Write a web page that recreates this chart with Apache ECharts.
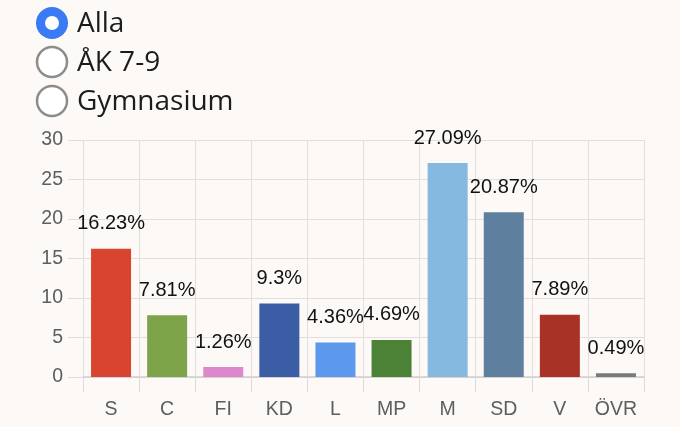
<!DOCTYPE html>
<html>
<head>
<meta charset="utf-8">
<script src="https://cdn.jsdelivr.net/npm/echarts@6/dist/echarts.min.js"></script>
<style>
html,body{margin:0;padding:0;background:#fcf9f6;}
#c{width:680px;height:427px;}
</style>
</head>
<body>
<div id="c"></div>
<script>
const categories = ['S','C','FI','KD','L','MP','M','SD','V','ÖVR'];
const values = [16.23, 7.81, 1.26, 9.3, 4.36, 4.69, 27.09, 20.87, 7.89, 0.49];
const barColors = ['#d84430','#7ea44a','#dc88cc','#3a5da6','#5c98ec','#4b8235','#85b9e0','#5f7f9f','#a73225','#7a7a7a'];
const yTicks = [0, 5, 10, 15, 20, 25, 30];
const radioOptions = ['Alla','ÅK 7-9','Gymnasium'];
const selectedIndex = 0;

const chart = echarts.init(document.getElementById('c'));

const graphics = [];
radioOptions.forEach((t, i) => {
  const cy = 23 + i * 39;
  if (i === selectedIndex) {
    graphics.push({type:'circle', shape:{cx:52, cy:cy, r:16}, style:{fill:'#3a7af5'}});
    graphics.push({type:'circle', shape:{cx:52, cy:cy, r:7}, style:{fill:'#ffffff'}});
  } else {
    graphics.push({type:'circle', shape:{cx:52, cy:cy, r:15}, style:{fill:'#ffffff', stroke:'#8c8c8c', lineWidth:2.5}});
  }
  graphics.push({type:'text', x:77, y:cy + 1, style:{text:t, fill:'#1c1c1c', font:'28px "Open Sans", "Noto Sans", sans-serif', textVerticalAlign:'middle'}});
});

chart.setOption({
  backgroundColor:'#fcf9f6',
  animation:false,
  graphic: graphics,
  grid:{left:83, right:36, top:140, bottom:50},
  xAxis:{
    type:'category',
    data:categories,
    axisLine:{show:true, lineStyle:{color:'#cfcfcf', width:1.5}},
    axisTick:{show:true, length:15, interval:0, lineStyle:{color:'#dcdcdc'}},
    axisLabel:{color:'#5e5e5e', fontSize:19.5, margin:23, interval:0, fontFamily:'"Liberation Sans", Arial, sans-serif'},
    splitLine:{show:true, interval:0, lineStyle:{color:'#e2dedb'}}
  },
  yAxis:{
    type:'value',
    min:yTicks[0], max:yTicks[yTicks.length-1], interval:5,
    axisLine:{show:false},
    axisTick:{show:true, length:15, lineStyle:{color:'#dcdcdc'}},
    axisLabel:{color:'#5e5e5e', fontSize:19.5, margin:20, fontFamily:'"Liberation Sans", Arial, sans-serif'},
    splitLine:{show:true, lineStyle:{color:'#e2dedb'}}
  },
  series:[{
    type:'bar',
    data:values.map((v,i)=>({value:v, itemStyle:{color:barColors[i]}})),
    barWidth:40,
    label:{
      show:true, position:'top', distance:15,
      formatter:p=>p.value+'%',
      color:'#111', fontSize:20,
      fontFamily:'"Liberation Sans", Arial, sans-serif'
    }
  }]
});
</script>
</body>
</html>
